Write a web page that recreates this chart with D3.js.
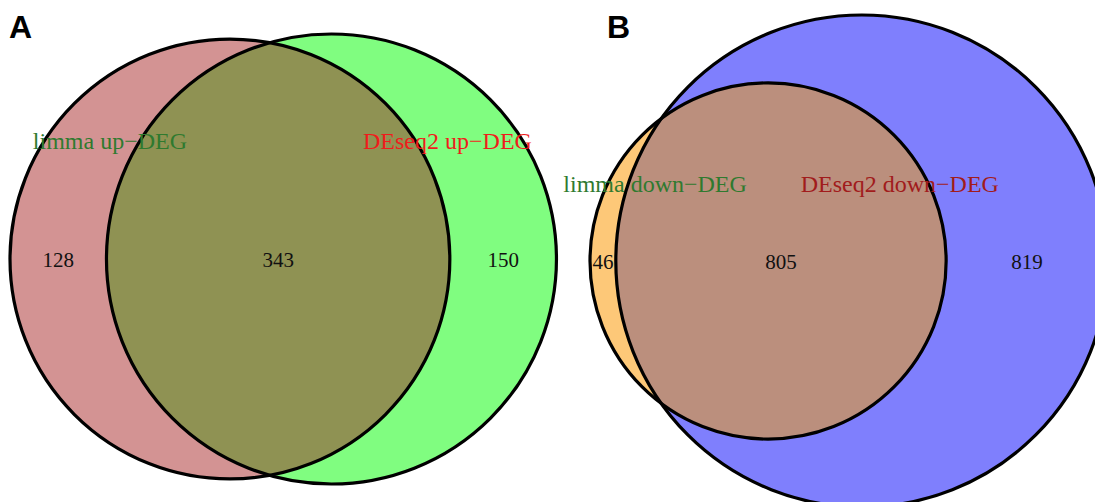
<!DOCTYPE html>
<html>
<head>
<meta charset="utf-8">
<script src="https://cdn.jsdelivr.net/npm/d3@7"></script>
<style>
  body { margin: 0; background: #fff; }
  svg { display: block; }
</style>
</head>
<body>
<div id="venn"></div>
<script>
(function venn(){
const width = 1095, height = 502;

// panel A: up-regulated genes
const upSets = ["limma up\u2212DEG", "DEseq2 up\u2212DEG"];
const upOnly = [128, 150];
const upShared = 343;

// panel B: down-regulated genes
const downSets = ["limma down\u2212DEG", "DEseq2 down\u2212DEG"];
const downOnly = [46, 819];
const downShared = 805;

const panels = [
  { tag: "A", sets: upSets, only: upOnly, shared: upShared,
    left: 10, cy: 259, maxR: 225,
    fills: ["#d39393", "#80fd80"], mid: "#8f9253",
    labelColors: ["#2f7a2f", "#f01c1c"],
    labelDx: [-120, 116], labelY: 149, tagX: 9 },
  { tag: "B", sets: downSets, only: downOnly, shared: downShared,
    left: 590, cy: 261, maxR: 246,
    fills: ["#fdc878", "#7f7ffd"], mid: "#bb8f7d",
    labelColors: ["#2f7a2f", "#a11c1c"],
    labelDx: [-113, 38], labelY: 192, tagX: 607 }
];

const svg = d3.select("#venn")
  .append("svg")
  .attr("width", width)
  .attr("height", height)
  .attr("viewBox", [0, 0, width, height]);

// area of the lens shared by two circles at distance d
function lens(r1, r2, d) {
  if (d >= r1 + r2) return 0;
  if (d <= Math.abs(r1 - r2)) return Math.PI * Math.min(r1, r2) ** 2;
  const a = r1 * r1 * Math.acos((d * d + r1 * r1 - r2 * r2) / (2 * d * r1));
  const b = r2 * r2 * Math.acos((d * d + r2 * r2 - r1 * r1) / (2 * d * r2));
  const c = 0.5 * Math.sqrt((-d + r1 + r2) * (d + r1 - r2) * (d - r1 + r2) * (d + r1 + r2));
  return a + b - c;
}

panels.forEach((p, i) => {
  const totals = p.only.map(v => v + p.shared);
  const r = d3.scaleSqrt().domain([0, d3.max(totals)]).range([0, p.maxR]);
  const r1 = r(totals[0]), r2 = r(totals[1]);
  const target = Math.PI * r1 * r1 * p.shared / totals[0];

  // bisection on the centre distance
  let lo = Math.abs(r1 - r2), hi = r1 + r2;
  for (let k = 0; k < 60; k++) {
    const m = (lo + hi) / 2;
    if (lens(r1, r2, m) > target) lo = m; else hi = m;
  }
  const d = (lo + hi) / 2;

  const x = d3.scaleLinear().domain([0, 1]).range([p.left + r1, p.left + r1 + d]);
  const circles = [
    { cx: x(0), r: r1, fill: p.fills[0] },
    { cx: x(1), r: r2, fill: p.fills[1] }
  ];

  const g = svg.append("g");

  g.selectAll("circle.fill")
    .data(circles)
    .join("circle")
    .attr("class", "fill")
    .attr("cx", c => c.cx)
    .attr("cy", p.cy)
    .attr("r", c => c.r)
    .attr("fill", c => c.fill);

  const clipId = "clip" + i;
  g.append("clipPath")
    .attr("id", clipId)
    .append("circle")
    .attr("cx", circles[0].cx)
    .attr("cy", p.cy)
    .attr("r", circles[0].r);

  g.append("circle")
    .attr("cx", circles[1].cx)
    .attr("cy", p.cy)
    .attr("r", circles[1].r)
    .attr("fill", p.mid)
    .attr("clip-path", `url(#${clipId})`);

  g.selectAll("circle.edge")
    .data(circles)
    .join("circle")
    .attr("class", "edge")
    .attr("cx", c => c.cx)
    .attr("cy", p.cy)
    .attr("r", c => c.r)
    .attr("fill", "none")
    .attr("stroke", "#000")
    .attr("stroke-width", 3.2);

  // counts sit halfway along each region on the centre line
  const e = [circles[0].cx - r1, circles[1].cx - r2, circles[0].cx + r1, circles[1].cx + r2];
  const counts = [
    { v: p.only[0], x: (e[0] + e[1]) / 2 },
    { v: p.shared, x: (e[1] + e[2]) / 2 },
    { v: p.only[1], x: (e[2] + e[3]) / 2 }
  ];
  g.selectAll("text.count")
    .data(counts)
    .join("text")
    .attr("class", "count")
    .attr("x", c => c.x)
    .attr("y", p.cy + 8)
    .attr("text-anchor", "middle")
    .attr("font-family", "Liberation Serif, Times New Roman, serif")
    .attr("font-size", 21)
    .attr("fill", "#111")
    .text(c => c.v);

  g.selectAll("text.label")
    .data(p.sets)
    .join("text")
    .attr("class", "label")
    .attr("x", (s, j) => circles[j].cx + p.labelDx[j])
    .attr("y", p.labelY)
    .attr("text-anchor", "middle")
    .attr("font-family", "Liberation Serif, Times New Roman, serif")
    .attr("font-size", 24)
    .attr("fill", (s, j) => p.labelColors[j])
    .text(s => s);

  svg.append("text")
    .attr("x", p.tagX)
    .attr("y", 38)
    .attr("font-family", "Liberation Sans, Arial, sans-serif")
    .attr("font-weight", "bold")
    .attr("font-size", 32)
    .attr("fill", "#000")
    .text(p.tag);
});

})();
</script>
</body>
</html>
